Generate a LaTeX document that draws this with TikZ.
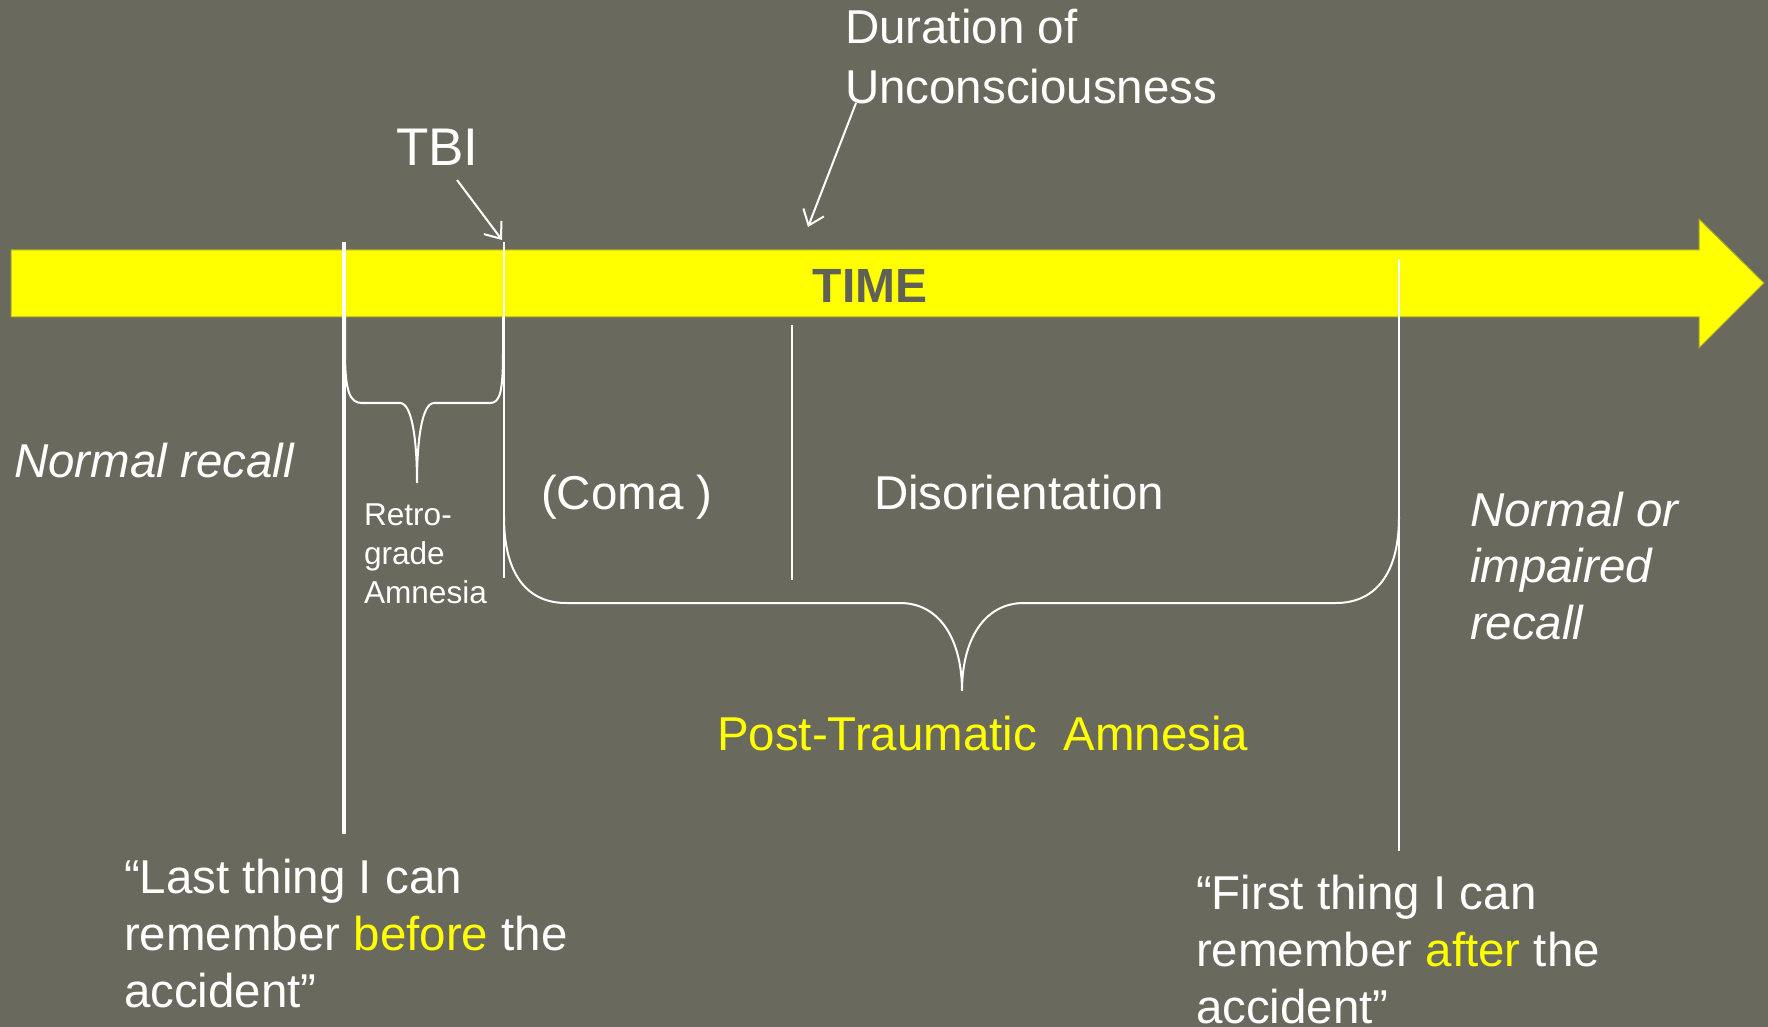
\documentclass[tikz,border=0pt]{standalone}
\usepackage{fontspec}
\setmainfont{Liberation Sans}
\usetikzlibrary{arrows.meta}
\definecolor{bg}{RGB}{105,106,93}
\definecolor{ylw}{RGB}{255,255,0}
\definecolor{barline}{RGB}{170,170,40}
\definecolor{timec}{RGB}{95,96,86}
\begin{document}
\begin{tikzpicture}[x=0.5pt,y=-0.5pt,
  txt/.style={inner sep=0pt, outer sep=0pt, text=white, anchor=base west,
    font=\fontsize{23.75}{28.5}\selectfont},
  small/.style={txt, font=\fontsize{15.8}{19.5}\selectfont},
  thinline/.style={draw=white, line width=1pt},
  thickline/.style={draw=white, line width=2pt},
  bracestyle/.style={draw=white, line width=1pt},
  arr/.style={draw=white, line width=1pt, -{Straight Barb[length=7pt,width=11pt]}}
]
\useasboundingbox (0,0) rectangle (1768,1027);
\fill[bg] (0,0) rectangle (1768,1027);

% time bar
\filldraw[fill=ylw, draw=barline, line width=0.5pt]
  (11,250) -- (1699,250) -- (1699,219) -- (1764,283) -- (1699,348) -- (1699,317) -- (11,317) -- cycle;
\node[inner sep=0pt, anchor=base, text=timec, font=\fontsize{24}{28}\selectfont\bfseries] (time) at (870,303) {TIME};

% vertical lines
\coordinate (lastTop) at (344,242);
\coordinate (lastBot) at (344,834);
\coordinate (tbiTop) at (504,242);
\coordinate (tbiBot) at (504,578);
\coordinate (comaTop) at (792,325);
\coordinate (comaBot) at (792,580);
\coordinate (firstTop) at (1399,259);
\coordinate (firstBot) at (1399,851);
\draw[thickline] (lastTop) -- (lastBot);
\draw[thinline] (tbiTop) -- (tbiBot);
\draw[thinline] (comaTop) -- (comaBot);
\draw[thinline] (firstTop) -- (firstBot);

% retrograde brace
\draw[bracestyle] (345,317) -- (345,352) .. controls (345,392) and (350,403) .. (362,403)
  -- (400,403) .. controls (412,403) and (417,440) .. (417,483)
  .. controls (417,440) and (422,403) .. (434,403)
  -- (490,403) .. controls (500,403) and (503,392) .. (503,352) -- (503,317);

% post-traumatic brace
\draw[bracestyle] (504,517) .. controls (504,578) and (530,603) .. (566,603)
  -- (900,603) .. controls (940,603) and (962,640) .. (962,691)
  .. controls (962,640) and (984,603) .. (1024,603)
  -- (1336,603) .. controls (1372,603) and (1399,578) .. (1399,517);

% labels
\node[txt, font=\fontsize{26.5}{30}\selectfont] (tbi) at (396,166) {TBI};
\coordinate (tbiFrom) at (457,180);
\coordinate (tbiTip) at (502,240);
\draw[arr] (tbiFrom) -- (tbiTip);

\node[txt] (dur) at (845,44) {\begin{tabular}[t]{@{}l@{}}Duration of\\[1.2pt]Unconsciousness\end{tabular}};
\coordinate (durFrom) at (856,103);
\coordinate (durTip) at (808,227);
\draw[arr] (durFrom) -- (durTip);

\node[txt, font=\fontsize{23.75}{28.5}\selectfont\itshape] (normal) at (14,477) {Normal recall};
\node[small] (retro) at (364,525) {\begin{tabular}[t]{@{}l@{}}Retro-\\grade\\Amnesia\end{tabular}};
\node[txt] (coma) at (541,509) {(Coma )};
\node[txt] (disor) at (874,509) {Disorientation};
\node[txt, font=\fontsize{23.75}{28.25}\selectfont\itshape] (impaired) at (1470,526)
  {\begin{tabular}[t]{@{}l@{}}Normal or\\impaired\\recall\end{tabular}};
\node[txt, text=ylw] (pta) at (717,750) {Post-Traumatic\ \ Amnesia};
\node[txt] (lastq) at (124,893)
  {\begin{tabular}[t]{@{}l@{}}“Last thing I can\\remember \textcolor{ylw}{before} the\\accident”\end{tabular}};
\node[txt] (firstq) at (1196,909)
  {\begin{tabular}[t]{@{}l@{}}“First thing I can\\remember \textcolor{ylw}{after} the\\accident”\end{tabular}};
\end{tikzpicture}
\end{document}
